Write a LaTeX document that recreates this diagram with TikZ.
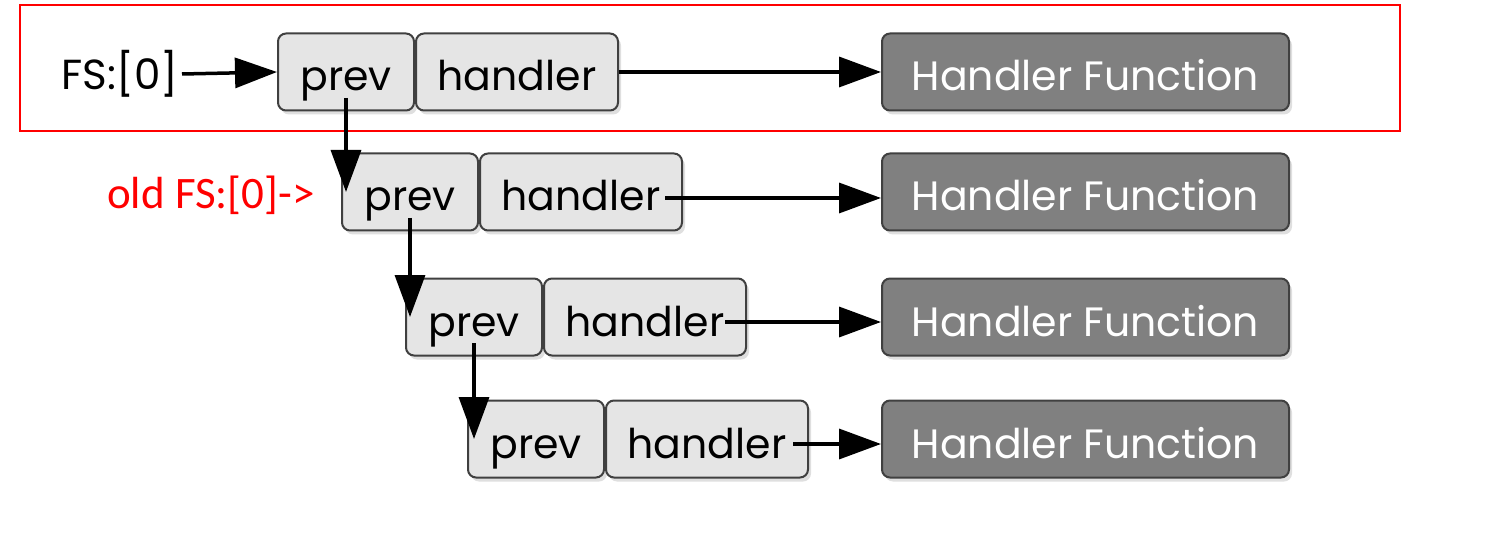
\documentclass[tikz,border=0pt]{standalone}
\usepackage{fontspec}
\setmainfont{Poppins}
\newfontfamily\redfont{Carlito}
\usetikzlibrary{arrows.meta,shadows}

\tikzset{
  recbox/.style={draw=black!75,line width=2pt,fill=black!10,rounded corners=8pt,
    minimum height=77pt,inner sep=0pt,text height=38pt,text depth=0pt,
    drop shadow={shadow xshift=3pt,shadow yshift=-4pt,fill=black!25},
    font=\fontsize{41}{46}\selectfont},
  funbox/.style={recbox,fill=black!50,text=white,minimum width=407pt},
  arr/.style={line width=3.5pt,-{Triangle[length=42pt,width=30pt]}}
}

\begin{document}
\begin{tikzpicture}[x=1pt,y=-1pt]
\useasboundingbox (0,0) rectangle (1495,537);

% frame round the first record
\draw[red,line width=1.5pt] (20,5) rectangle (1400,131);

% records: prev | handler
\foreach \n/\x/\y in {1/277/72,2/341/192,3/405/317,4/467/439}
{
  \node[recbox,minimum width=136pt,anchor=west] (p\n) at (\x,\y) {prev};
  \node[recbox,minimum width=202pt,anchor=west] (h\n) at (\x+138,\y) {handler};
  \node[funbox,anchor=west] (f\n) at (881,\y) {Handler Function};
}

% labels
\node[font=\fontsize{42}{46}\selectfont,anchor=east] (fs) at (182,74) {FS:[0]};
\node[red,font=\redfont\fontsize{45}{50}\selectfont,anchor=east] (old) at (318,195) {old FS:[0]->};

% chain of prev pointers
\draw[arr] (fs.east) -- (p1.west);
\draw[arr] ([yshift=-26pt]p1.center) -- (p1.center |- p2.west);
\draw[arr] ([yshift=-26pt]p2.center) -- (p2.center |- p3.west);
\draw[arr] ([yshift=-26pt]p3.center) -- (p3.center |- p4.west);

% handlers
\draw[arr] (h1.east) -- (f1.west);
\draw[arr] ([xshift=-18pt,yshift=-6pt]h2.east) -- ([yshift=-6pt]f2.west);
\draw[arr] ([xshift=-22pt,yshift=-5pt]h3.east) -- ([yshift=-5pt]f3.west);
\draw[arr] ([xshift=-16pt,yshift=-5pt]h4.east) -- ([yshift=-5pt]f4.west);
\end{tikzpicture}
\end{document}
